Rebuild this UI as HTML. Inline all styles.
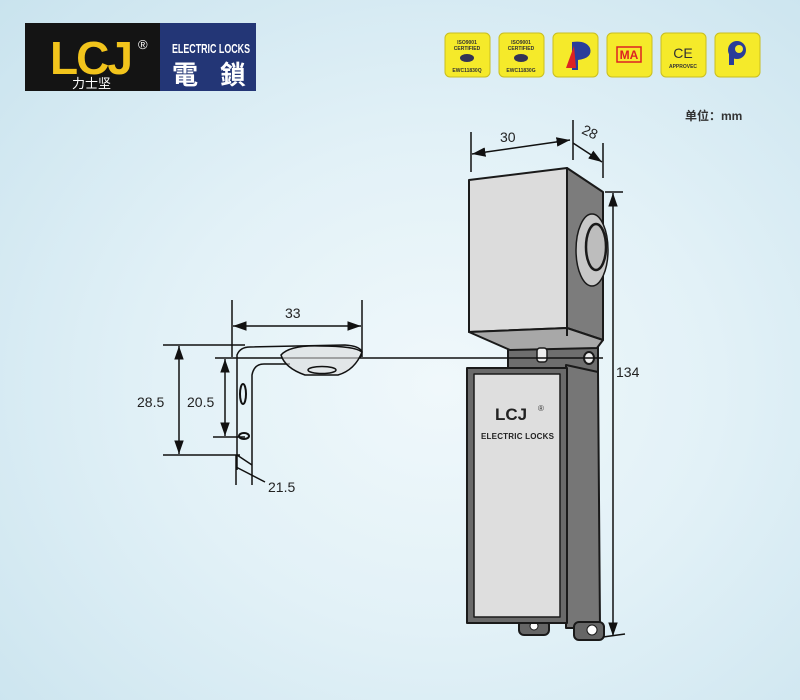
<!DOCTYPE html>
<html><head><meta charset="utf-8"><style>
html,body{margin:0;padding:0;width:800px;height:700px;overflow:hidden}
body{background:radial-gradient(ellipse at 55% 55%,#f0f8fb 0%,#e2f1f7 45%,#c9e3ee 100%)}
svg{position:absolute;left:0;top:0}
text{font-family:"Liberation Sans","Noto Sans CJK SC",sans-serif}
</style></head><body>
<svg width="800" height="700" viewBox="0 0 800 700">
<defs>
<marker id="a" viewBox="0 0 10 10" refX="10" refY="5" markerWidth="9" markerHeight="9" orient="auto-start-reverse"><path d="M0,1.5 L10,5 L0,8.5z" fill="#111"/></marker>
</defs>
<!-- Logo -->
<rect x="25" y="23" width="137" height="68" fill="#141414"/>
<rect x="160" y="23" width="96" height="68" fill="#233676"/>
<text x="50" y="74" font-size="46" font-weight="bold" fill="#f2c41c" font-family="Liberation Sans" letter-spacing="-2">LCJ</text>
<text x="138" y="49" font-size="13" fill="#fff">®</text>
<text x="72" y="88" font-size="13" fill="#fff" font-family="Noto Sans CJK SC,sans-serif">力士坚</text>
<text x="172" y="53" font-size="13" font-weight="bold" fill="#fff" textLength="78" lengthAdjust="spacingAndGlyphs">ELECTRIC LOCKS</text>
<text x="172" y="84" font-size="26" font-weight="bold" fill="#fff" font-family="Noto Sans CJK TC,sans-serif" textLength="74">電 鎖</text>
<!-- badges -->
<g font-size="5" font-weight="bold" text-anchor="middle" fill="#333">
<rect x="445" y="33" width="45" height="44" rx="5" fill="#f5ea2a" stroke="#c9be20"/>
<text x="467" y="44">ISO9001</text><text x="467" y="50">CERTIFIED</text><ellipse cx="467" cy="58" rx="7" ry="4" fill="#335"/><text x="467" y="72">EWC11830Q</text>
<rect x="499" y="33" width="45" height="44" rx="5" fill="#f5ea2a" stroke="#c9be20"/>
<text x="521" y="44">ISO9001</text><text x="521" y="50">CERTIFIED</text><ellipse cx="521" cy="58" rx="7" ry="4" fill="#335"/><text x="521" y="72">EWC11830G</text>
<rect x="553" y="33" width="45" height="44" rx="5" fill="#f5ea2a" stroke="#c9be20"/>
<path d="M572,42 L572,70 L578,70 L578,60 Q593,58 590,48 Q586,40 572,42z" fill="#2a3d9a"/><path d="M566,68 L574,46 L576,68z" fill="#d22"/>
<rect x="607" y="33" width="45" height="44" rx="5" fill="#f5ea2a" stroke="#c9be20"/>
<text x="629" y="59" font-size="12" fill="#d22">MA</text><rect x="617" y="47" width="24" height="15" fill="none" stroke="#d22" stroke-width="1.5"/>
<rect x="661" y="33" width="45" height="44" rx="5" fill="#f5ea2a" stroke="#c9be20"/>
<text x="683" y="58" font-size="14" font-weight="normal" fill="#333">CE</text><text x="683" y="68">APPROVEC</text>
<rect x="715" y="33" width="45" height="44" rx="5" fill="#f5ea2a" stroke="#c9be20"/>
<circle cx="737" cy="50" r="9" fill="#2a3d9a"/><circle cx="739" cy="49" r="4" fill="#f5ea2a"/><rect x="729" y="50" width="5" height="15" fill="#2a3d9a"/>
</g>
<text x="685" y="120" font-size="12" font-weight="bold" fill="#333" font-family="Liberation Sans,Noto Sans CJK SC,sans-serif">单位：mm</text>
<!-- Top box -->
<g stroke="#1a1a1a" stroke-width="2" stroke-linejoin="round">
<rect x="508" y="335" width="90" height="40" fill="#6e6e6e"/>
<polygon points="567,168 603,192 603,340 567,328" fill="#7c7c7c"/>
<polygon points="469,180 567,168 567,328 469,332" fill="#dcdcdc"/>
<polygon points="469,332 567,328 603,340 597,348 510,350" fill="#a8a8a8"/>
<line x1="567" y1="328" x2="567" y2="336"/>
<ellipse cx="592" cy="250" rx="16" ry="36" fill="#c8c8c8" stroke-width="1.5"/>
<ellipse cx="596" cy="247" rx="10" ry="23" fill="#bdbdbd" stroke-width="2.5"/>
<rect x="537" y="348" width="10" height="14" rx="3" fill="#eee" stroke-width="1.5"/>
<ellipse cx="589" cy="358" rx="5" ry="6" fill="#eee" stroke-width="2"/>
<!-- bottom box -->
<polygon points="566,365 598,372 600,628 566,628" fill="#767676"/>
<rect x="519" y="620" width="30" height="15" rx="5" fill="#666"/>
<rect x="574" y="622" width="30" height="18" rx="5" fill="#666"/>
<circle cx="592" cy="630" r="5" fill="#fff" stroke-width="1"/>
<circle cx="534" cy="626" r="4" fill="#fff" stroke-width="1"/>
<rect x="467" y="368" width="100" height="255" fill="#6a6a6a"/>
<rect x="474" y="374" width="86" height="243" fill="#dedede" stroke-width="1.5"/>
</g>
<text x="495" y="420" font-size="17" font-weight="bold" fill="#222">LCJ</text>
<text x="538" y="411" font-size="8" fill="#333">®</text>
<text x="481" y="439" font-size="8" font-weight="bold" fill="#222" textLength="73">ELECTRIC LOCKS</text>
<!-- dims -->
<g stroke="#111" stroke-width="1.5" fill="none">
<line x1="471" y1="132" x2="471" y2="172"/><line x1="573" y1="120" x2="573" y2="160"/><line x1="603" y1="143" x2="603" y2="178"/>
<path d="M472,154 L570,140" marker-start="url(#a)" marker-end="url(#a)"/>
<path d="M573,143 L602,162" marker-end="url(#a)"/>
<line x1="605" y1="192" x2="623" y2="192"/><line x1="603" y1="637" x2="625" y2="634"/>
<path d="M613,193 L613,636" marker-start="url(#a)" marker-end="url(#a)"/>
<line x1="215" y1="358" x2="603" y2="358"/>
<line x1="232" y1="300" x2="232" y2="357"/><line x1="362" y1="300" x2="362" y2="357"/>
<path d="M233,326 L361,326" marker-start="url(#a)" marker-end="url(#a)"/>
<line x1="163" y1="345" x2="245" y2="345"/><line x1="163" y1="455" x2="240" y2="455"/>
<path d="M179,346 L179,454" marker-start="url(#a)" marker-end="url(#a)"/>
<line x1="213" y1="437" x2="245" y2="437"/>
<path d="M225,359 L225,436" marker-start="url(#a)" marker-end="url(#a)"/>
<line x1="236" y1="455" x2="236" y2="485"/><line x1="252" y1="465" x2="252" y2="485"/>
<line x1="236" y1="467" x2="265" y2="482"/>
<!-- bracket -->
<path d="M237,470 L237,355 Q240,347 250,347 L345,345 Q360,346 362,352 L360,358 M252,465 L252,375 Q254,364 264,364 L290,364"/>
<path d="M237,455 L252,465"/>
<path d="M281,355 Q290,345 320,346 Q355,346 362,352 Q355,370 338,375 L305,375 Q285,368 281,355z" fill="#dcdcdc" fill-opacity="0.6"/>
<ellipse cx="322" cy="370" rx="14" ry="3.5" stroke-width="1.5"/>
<ellipse cx="243" cy="394" rx="3" ry="10" stroke-width="2"/>
<ellipse cx="244" cy="436" rx="5" ry="3" stroke-width="2"/>
</g>
<g font-size="14" fill="#222">
<text x="500" y="142">30</text>
<text x="582" y="136" transform="rotate(25 588 132)">28</text>
<text x="616" y="377">134</text>
<text x="285" y="318">33</text>
<text x="137" y="407">28.5</text>
<text x="187" y="407">20.5</text>
<text x="268" y="492">21.5</text>
</g>
</svg>
</body></html>
